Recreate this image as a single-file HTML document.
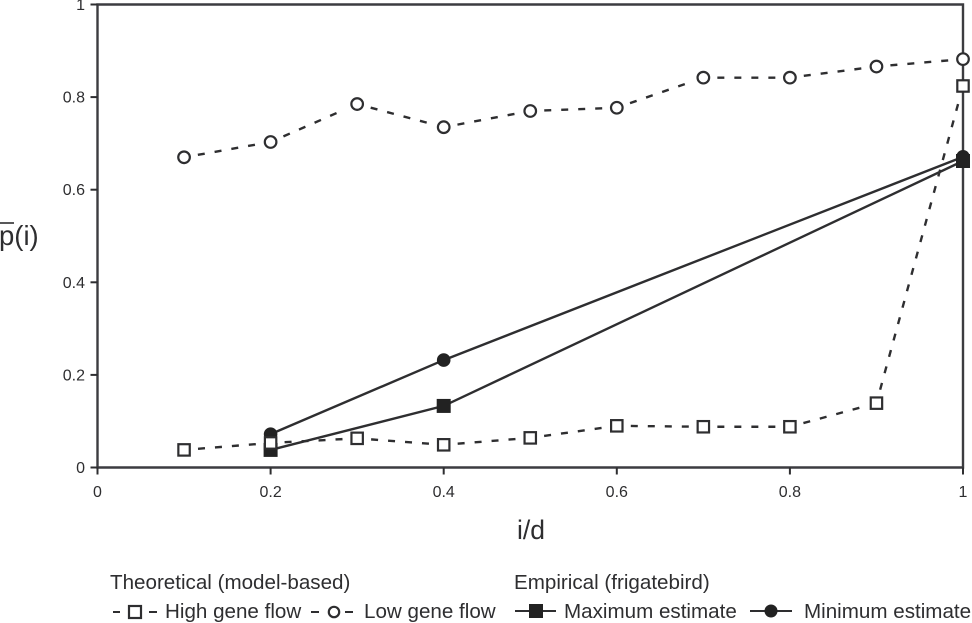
<!DOCTYPE html>
<html>
<head>
<meta charset="utf-8">
<title>Chart</title>
<style>
html,body{margin:0;padding:0;background:#fff;}
svg{display:block;font-family:"Liberation Sans",Arial,sans-serif;fill:#2e2e30;}
</style>
</head>
<body>
<svg id="chart" width="972" height="623" viewBox="0 0 972 623" xmlns="http://www.w3.org/2000/svg">
  <g id="axes"></g>
  <g id="marks"></g>
  <text x="531" y="539" font-size="26.5" text-anchor="middle">i/d</text>
  <text x="-1" y="245" font-size="27.5">p(i)</text>
  <line x1="0" y1="223" x2="14" y2="223" stroke="#2e2e30" stroke-width="1.6"/>
  <g>
    <text x="110" y="589" font-size="20.6">Theoretical (model-based)</text>
    <text x="514" y="589" font-size="20.6">Empirical (frigatebird)</text>
    <g>
      <line x1="113" y1="612" x2="120" y2="612" stroke="#2e2e30" stroke-width="2"/>
      <rect x="129" y="606" width="12" height="12" fill="#fff" stroke="#2e2e30" stroke-width="2.2"/>
      <line x1="149" y1="612" x2="157" y2="612" stroke="#2e2e30" stroke-width="2"/>
      <text x="165" y="618" font-size="20.6">High gene flow</text>
    </g>
    <g>
      <line x1="311" y1="612" x2="319" y2="612" stroke="#2e2e30" stroke-width="2"/>
      <circle cx="334" cy="612" r="5.2" fill="#fff" stroke="#2e2e30" stroke-width="2.2"/>
      <line x1="345" y1="612" x2="353" y2="612" stroke="#2e2e30" stroke-width="2"/>
      <text x="364" y="618" font-size="20.6">Low gene flow</text>
    </g>
    <g>
      <line x1="515" y1="611" x2="556" y2="611" stroke="#2e2e30" stroke-width="2"/>
      <rect x="529" y="604" width="14" height="14" fill="#222"/>
      <text x="564" y="618" font-size="20.6">Maximum estimate</text>
    </g>
    <g>
      <line x1="750" y1="611" x2="792" y2="611" stroke="#2e2e30" stroke-width="2"/>
      <circle cx="771" cy="611" r="6.5" fill="#222"/>
      <text x="804" y="618" font-size="20.6">Minimum estimate</text>
    </g>
  </g>
</svg>
<script>
const xTicks = [0, 0.2, 0.4, 0.6, 0.8, 1];
const yTicks = [0, 0.2, 0.4, 0.6, 0.8, 1];
const tickLabels = ['0', '0.2', '0.4', '0.6', '0.8', '1'];
const highX = [0.1, 0.2, 0.3, 0.4, 0.5, 0.6, 0.7, 0.8, 0.9, 1];
const highGeneFlow = [0.038, 0.053, 0.063, 0.049, 0.064, 0.09, 0.088, 0.088, 0.139, 0.824];
const lowX = [0.1, 0.2, 0.3, 0.4, 0.5, 0.6, 0.7, 0.8, 0.9, 1];
const lowGeneFlow = [0.67, 0.703, 0.785, 0.735, 0.77, 0.777, 0.842, 0.842, 0.866, 0.882];
const empiricalX = [0.2, 0.4, 1];
const maximumEstimate = [0.038, 0.133, 0.662];
const minimumEstimate = [0.072, 0.232, 0.671];

const NS = 'http://www.w3.org/2000/svg';
const INK = '#2e2e30';
const sx = v => 97.5 + v * 865.5;
const sy = v => 467.5 - v * 463;
const axes = document.getElementById('axes');
const marks = document.getElementById('marks');

function make(tag, attrs, parent, text) {
  const el = document.createElementNS(NS, tag);
  for (const k in attrs) el.setAttribute(k, attrs[k]);
  if (text !== undefined) el.textContent = text;
  parent.appendChild(el);
  return el;
}

const frame = make('path', {d: `M${sx(0)} ${sy(1)}H${sx(1)}V${sy(0)}H${sx(0)}Z`, fill: 'none', stroke: '#3c3c40', 'stroke-width': 2.4}, axes);



xTicks.forEach((t, i) => {
  const tick = make('line', {x1: sx(t), x2: sx(t), y1: sy(0), y2: sy(0) + 7, stroke: INK, 'stroke-width': 2}, axes);
  
  
  const label = make('text', {x: sx(t), y: 497, 'font-size': 16, 'text-anchor': 'middle'}, axes, tickLabels[i]);
  
  
});
yTicks.forEach((t, i) => {
  const tick = make('line', {x1: sx(0) - 7, x2: sx(0), y1: sy(t), y2: sy(t), stroke: INK, 'stroke-width': 2}, axes);
  
  
  const label = make('text', {x: 85, y: sy(t) + 5.5, 'font-size': 16, 'text-anchor': 'end'}, axes, tickLabels[i]);
  
  
});

function pathOf(xs, ys) {
  return xs.map((x, i) => (i ? 'L' : 'M') + sx(x) + ' ' + sy(ys[i])).join('');
}

function dashedPath(xs, ys, gap) {
  let d = '';
  for (let i = 0; i < xs.length - 1; i++) {
    const ax = sx(xs[i]), ay = sy(ys[i]), bx = sx(xs[i + 1]), by = sy(ys[i + 1]);
    const len = Math.hypot(bx - ax, by - ay);
    const ux = (bx - ax) / len, uy = (by - ay) / len;
    d += `M${ax + ux * gap} ${ay + uy * gap}L${bx - ux * gap} ${by - uy * gap}`;
  }
  return d;
}

const minLine = make('path', {d: pathOf(empiricalX, minimumEstimate), fill: 'none', stroke: INK, 'stroke-width': 2.4}, marks);


const maxLine = make('path', {d: pathOf(empiricalX, maximumEstimate), fill: 'none', stroke: INK, 'stroke-width': 2.4}, marks);



empiricalX.forEach((x, i) => {
  const c = make('circle', {cx: sx(x), cy: sy(minimumEstimate[i]), r: 6.8, fill: '#222'}, marks);
  
  
  const s = make('rect', {x: sx(x) - 7, y: sy(maximumEstimate[i]) - 7, width: 14, height: 14, fill: '#222'}, marks);
  
  
});

const lowLine = make('path', {d: dashedPath(lowX, lowGeneFlow, 14), fill: 'none', stroke: INK, 'stroke-width': 2.4, 'stroke-dasharray': '7 10'}, marks);


const highLine = make('path', {d: dashedPath(highX, highGeneFlow, 14), fill: 'none', stroke: INK, 'stroke-width': 2.4, 'stroke-dasharray': '7 10'}, marks);



lowX.forEach((x, i) => {
  const c = make('circle', {cx: sx(x), cy: sy(lowGeneFlow[i]), r: 5.8, fill: '#fff', stroke: INK, 'stroke-width': 2.2}, marks);
  
  
});
highX.forEach((x, i) => {
  const s = make('rect', {x: sx(x) - 5.7, y: sy(highGeneFlow[i]) - 5.7, width: 11.4, height: 11.4, fill: '#fff', stroke: INK, 'stroke-width': 2.2}, marks);
  
  
});
</script>
</body>
</html>
